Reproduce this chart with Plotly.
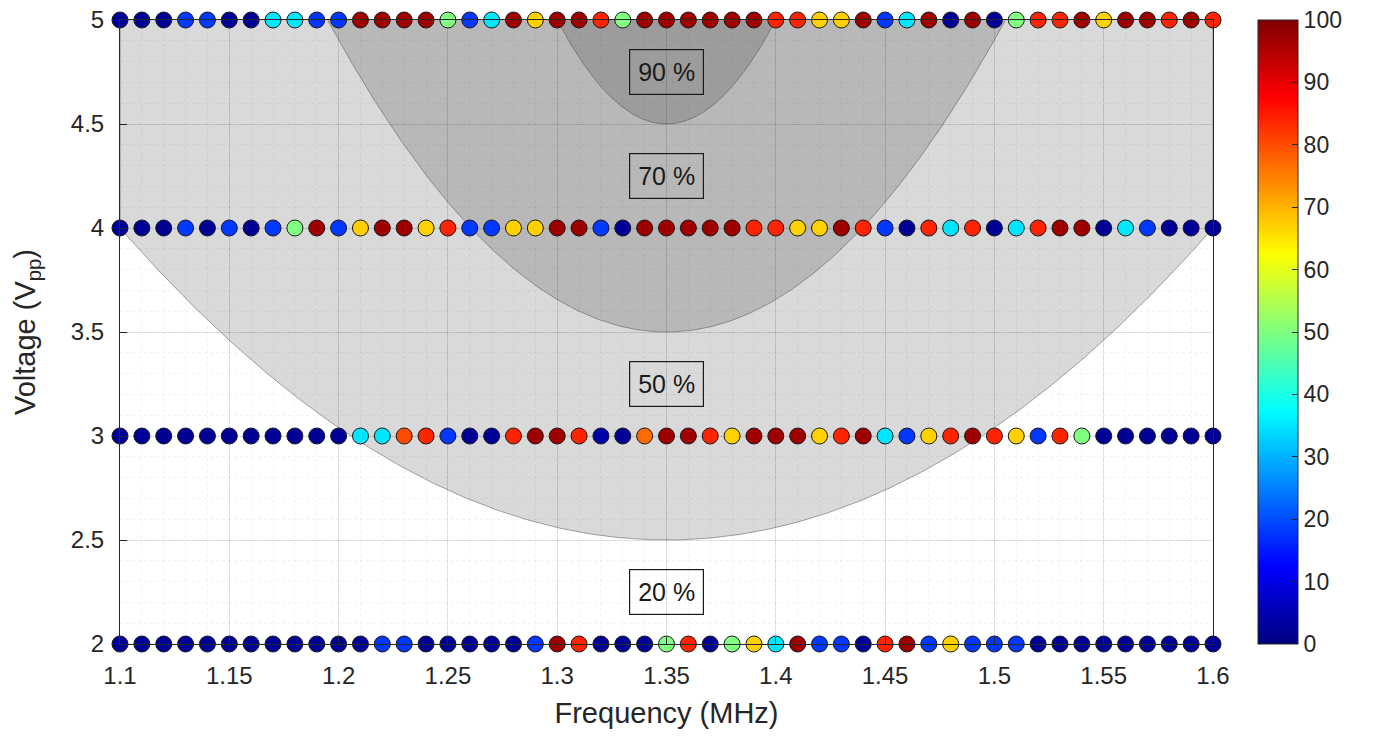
import numpy as np
import plotly.graph_objects as go

# ---------------- data ----------------
freq = [round(1.10 + 0.01 * i, 2) for i in range(51)]   # MHz
voltages = [5, 4, 3, 2]                                  # Vpp

val_5 = [2, 2, 2, 18, 18, 2, 2, 35, 35, 18, 18, 97, 97, 97, 97, 50, 18,
         35, 97, 67, 97, 97, 84, 50, 97, 97, 97, 97, 97, 97, 84, 84, 67, 67,
         97, 18, 35, 97, 2, 97, 2, 50, 84, 84, 97, 67, 97, 97, 84, 97, 84]
val_4 = [2, 2, 2, 18, 2, 18, 2, 18, 50, 97, 18, 67, 97, 97, 67, 84, 18,
         18, 67, 67, 97, 97, 18, 2, 97, 97, 97, 97, 97, 84, 84, 67, 67,
         97, 84, 18, 2, 84, 35, 84, 2, 35, 84, 97, 97, 2, 35, 18, 2, 2, 2]
val_3 = [2, 2, 2, 2, 2, 2, 2, 2, 2, 2, 2, 35, 35, 80, 84, 18, 2,
         2, 84, 97, 97, 84, 4, 2, 77, 97, 97, 84, 67, 97, 97, 97, 67,
         84, 97, 35, 18, 67, 84, 97, 84, 67, 18, 84, 50, 2, 2, 2, 2, 2, 2]
val_2 = [2, 2, 2, 2, 2, 2, 2, 2, 2, 2, 2, 2, 18, 18, 2, 2, 2,
         2, 2, 18, 97, 84, 2, 2, 2, 50, 84, 2, 50, 67, 35, 97, 18,
         18, 2, 84, 97, 18, 67, 18, 18, 18, 2, 2, 2, 2, 2, 2, 2, 2, 2]
values = [val_5, val_4, val_3, val_2]

x_ticks = [1.1, 1.15, 1.2, 1.25, 1.3, 1.35, 1.4, 1.45, 1.5, 1.55, 1.6]
x_ticklabels = ["1.1", "1.15", "1.2", "1.25", "1.3", "1.35", "1.4", "1.45", "1.5", "1.55", "1.6"]
y_ticks = [2, 2.5, 3, 3.5, 4, 4.5, 5]
y_ticklabels = ["2", "2.5", "3", "3.5", "4", "4.5", "5"]
cb_ticks = list(range(0, 101, 10))

# efficiency regions (parabolas): vertex voltage and curvature
region_vertex = [2.5, 3.5, 4.5]
region_coef = [24.0, 62.4, 200.0]      # V = vertex + coef*(f-1.35)^2
label_text = ["90 %", "70 %", "50 %", "20 %"]
label_y = [4.75, 4.25, 3.25, 2.25]
f_center = 1.35

jet = [[0.0, "rgb(0,0,128)"], [0.125, "rgb(0,0,255)"], [0.375, "rgb(0,255,255)"],
       [0.625, "rgb(255,255,0)"], [0.875, "rgb(255,0,0)"], [1.0, "rgb(128,0,0)"]]

fig = go.Figure()

# regions
for vtx, c in zip(region_vertex, region_coef):
    hw = min(np.sqrt((5 - vtx) / c), 0.25)
    fx = np.linspace(f_center - hw, f_center + hw, 300)
    fy = vtx + c * (fx - f_center) ** 2
    fy = np.minimum(fy, 5)
    xs = [fx[0]] + list(fx) + [fx[-1]]
    ys = [5] + list(fy) + [5]
    fig.add_trace(go.Scatter(x=xs, y=ys, fill="toself", mode="lines",
                             line=dict(color="rgba(60,60,60,0.45)", width=1),
                             fillcolor="rgba(0,0,0,0.15)", hoverinfo="skip",
                             showlegend=False))

# points
xs, ys, cs = [], [], []
for v, row in zip(voltages, values):
    xs += freq
    ys += [v] * len(freq)
    cs += row
fig.add_trace(go.Scatter(
    x=xs, y=ys, mode="markers", cliponaxis=False, showlegend=False,
    marker=dict(size=16, color=cs, colorscale=jet, cmin=0, cmax=100,
                line=dict(color="#1a1a1a", width=1),
                colorbar=dict(x=1.041, xanchor="left", y=0.5, yanchor="middle",
                              len=1.0, lenmode="fraction", thickness=40,
                              xpad=0, ypad=0,
                              outlinecolor="#262626", outlinewidth=1,
                              tickvals=cb_ticks, ticktext=[str(t) for t in cb_ticks],
                              ticks="inside", ticklen=6, tickcolor="#262626",
                              ticklabeloverflow="allow",
                              tickfont=dict(size=23, color="#262626")))))

for t, y in zip(label_text, label_y):
    fig.add_annotation(x=f_center, y=y, text=t, showarrow=False,
                       font=dict(size=25, color="#1a1a1a"),
                       bordercolor="#1a1a1a", borderwidth=1.2, borderpad=8,
                       bgcolor="rgba(0,0,0,0)")

axis_common = dict(showline=True, mirror=True, linecolor="#262626", linewidth=1,
                   ticks="inside", ticklen=7, tickcolor="#262626",
                   showgrid=True, gridcolor="rgba(0,0,0,0.10)", gridwidth=1,
                   zeroline=False, automargin=False, ticklabeloverflow="allow",
                   tickfont=dict(size=24, color="#262626"))

fig.update_xaxes(range=[1.1, 1.6], tickvals=x_ticks, ticktext=x_ticklabels,
                 ticklabelstandoff=10,
                 title=dict(text="Frequency (MHz)", font=dict(size=29, color="#262626"), standoff=14),
                 minor=dict(dtick=0.01, showgrid=True, gridcolor="rgba(0,0,0,0.05)", griddash="dot"),
                 **axis_common)
fig.update_yaxes(range=[2, 5], tickvals=y_ticks, ticktext=y_ticklabels,
                 ticklabelstandoff=10,
                 title=dict(text="Voltage (V<sub>pp</sub>)", font=dict(size=29, color="#262626"), standoff=26),
                 minor=dict(dtick=0.1, showgrid=True, gridcolor="rgba(0,0,0,0.05)", griddash="dot"),
                 **axis_common)

fig.update_layout(width=1360, height=723, plot_bgcolor="white", paper_bgcolor="white",
                  margin=dict(l=112, r=155, t=12, b=87, autoexpand=False),
                  font=dict(family="Liberation Sans, Arial, sans-serif"))

fig.write_html("out.html")
